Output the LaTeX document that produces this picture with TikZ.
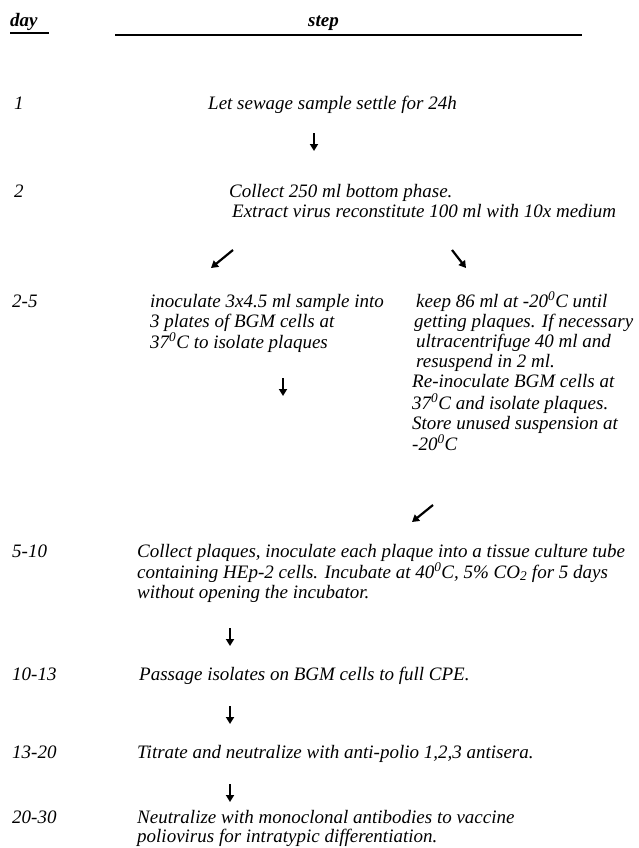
\documentclass[tikz,border=0pt]{standalone}
\usepackage{fontspec}
\setmainfont{Liberation Serif}
\usetikzlibrary{arrows.meta}

% lines of a block, first baseline on the node's base
\newcommand{\rows}[1]{\begin{tabular}[t]{@{}l@{}}#1\end{tabular}}

\tikzset{
  txt/.style={anchor=base west, inner sep=0pt, font=\fontsize{19}{20}\selectfont\itshape},
  head/.style={txt, font=\fontsize{19}{20}\selectfont\bfseries\itshape},
  flow/.style={-{Triangle[length=7pt,width=8pt]}, line width=2.2pt, black}
}

\begin{document}
\begin{tikzpicture}[x=1pt,y=-1pt]
\useasboundingbox (0,0) rectangle (639,848);
% header
\node[head] (dayhead) at (10,27) {day};
\node[head] (stephead) at (308,27) {step};
\draw[line width=1.5pt] (10,33)--(49,33);
\draw[line width=1.8pt] (115,35)--(582,35);

% days
\node[txt] (d1) at (14,110) {1};
\node[txt] (d2) at (14,197) {2};
\node[txt] (d3) at (12,307) {2-5};
\node[txt] (d4) at (12,557) {5-10};
\node[txt] (d5) at (12,680) {10-13};
\node[txt] (d6) at (12,758) {13-20};
\node[txt] (d7) at (12,823) {20-30};

% steps
\node[txt] (settle) at (208,110) {Let sewage sample settle for 24h};
\node[txt] (collect) at (229,197) {\rows{Collect 250 ml bottom phase.\\
  \hspace*{3pt}Extract virus reconstitute 100 ml with 10x medium}};
\node[txt] (inoc) at (150,307) {\rows{inoculate 3x4.5 ml sample into\\
  3 plates of BGM cells at\\
  37\textsuperscript{0}C to isolate plaques}};
\node[txt] (keep) at (412,307) {\rows{\hspace*{4pt}keep 86 ml at -20\textsuperscript{0}C until\\
  \hspace*{2pt}getting plaques. If necessary\\
  \hspace*{4pt}ultracentrifuge 40 ml and\\
  \hspace*{4pt}resuspend in 2 ml.\\
  Re-inoculate BGM cells at\\[1pt]
  37\textsuperscript{0}C and isolate plaques.\\
  Store unused suspension at\\
  -20\textsuperscript{0}C}};
\node[txt] (plaques) at (137,557) {\rows{Collect plaques, inoculate each plaque into a tissue culture tube\\
  containing HEp-2 cells. Incubate at 40\textsuperscript{0}C, 5\% CO\textsubscript{2} for 5 days\\
  without opening the incubator.}};
\node[txt] (passage) at (139,680) {Passage isolates on BGM cells to full CPE.};
\node[txt] (titrate) at (137,758) {Titrate and neutralize with anti-polio 1,2,3 antisera.};
\node[txt] (neutral) at (137,823) {\rows{Neutralize with monoclonal antibodies to vaccine\\[-1pt]
  poliovirus for intratypic differentiation.}};

% arrows
\coordinate (a1s) at (314,133); \coordinate (a1e) at (314,151);
\coordinate (a2s) at (233,250); \coordinate (a2e) at (211,268);
\coordinate (a3s) at (452,250); \coordinate (a3e) at (466,268);
\coordinate (a4s) at (283,378); \coordinate (a4e) at (283,396);
\coordinate (a5s) at (433,505); \coordinate (a5e) at (412,522);
\coordinate (a6s) at (230,628); \coordinate (a6e) at (230,646);
\coordinate (a7s) at (230,706); \coordinate (a7e) at (230,724);
\coordinate (a8s) at (230,784); \coordinate (a8e) at (230,802);
\foreach \s/\e in {a1s/a1e,a2s/a2e,a3s/a3e,a4s/a4e,a5s/a5e,a6s/a6e,a7s/a7e,a8s/a8e}
  \draw[flow] (\s)--(\e);
\end{tikzpicture}
\end{document}
